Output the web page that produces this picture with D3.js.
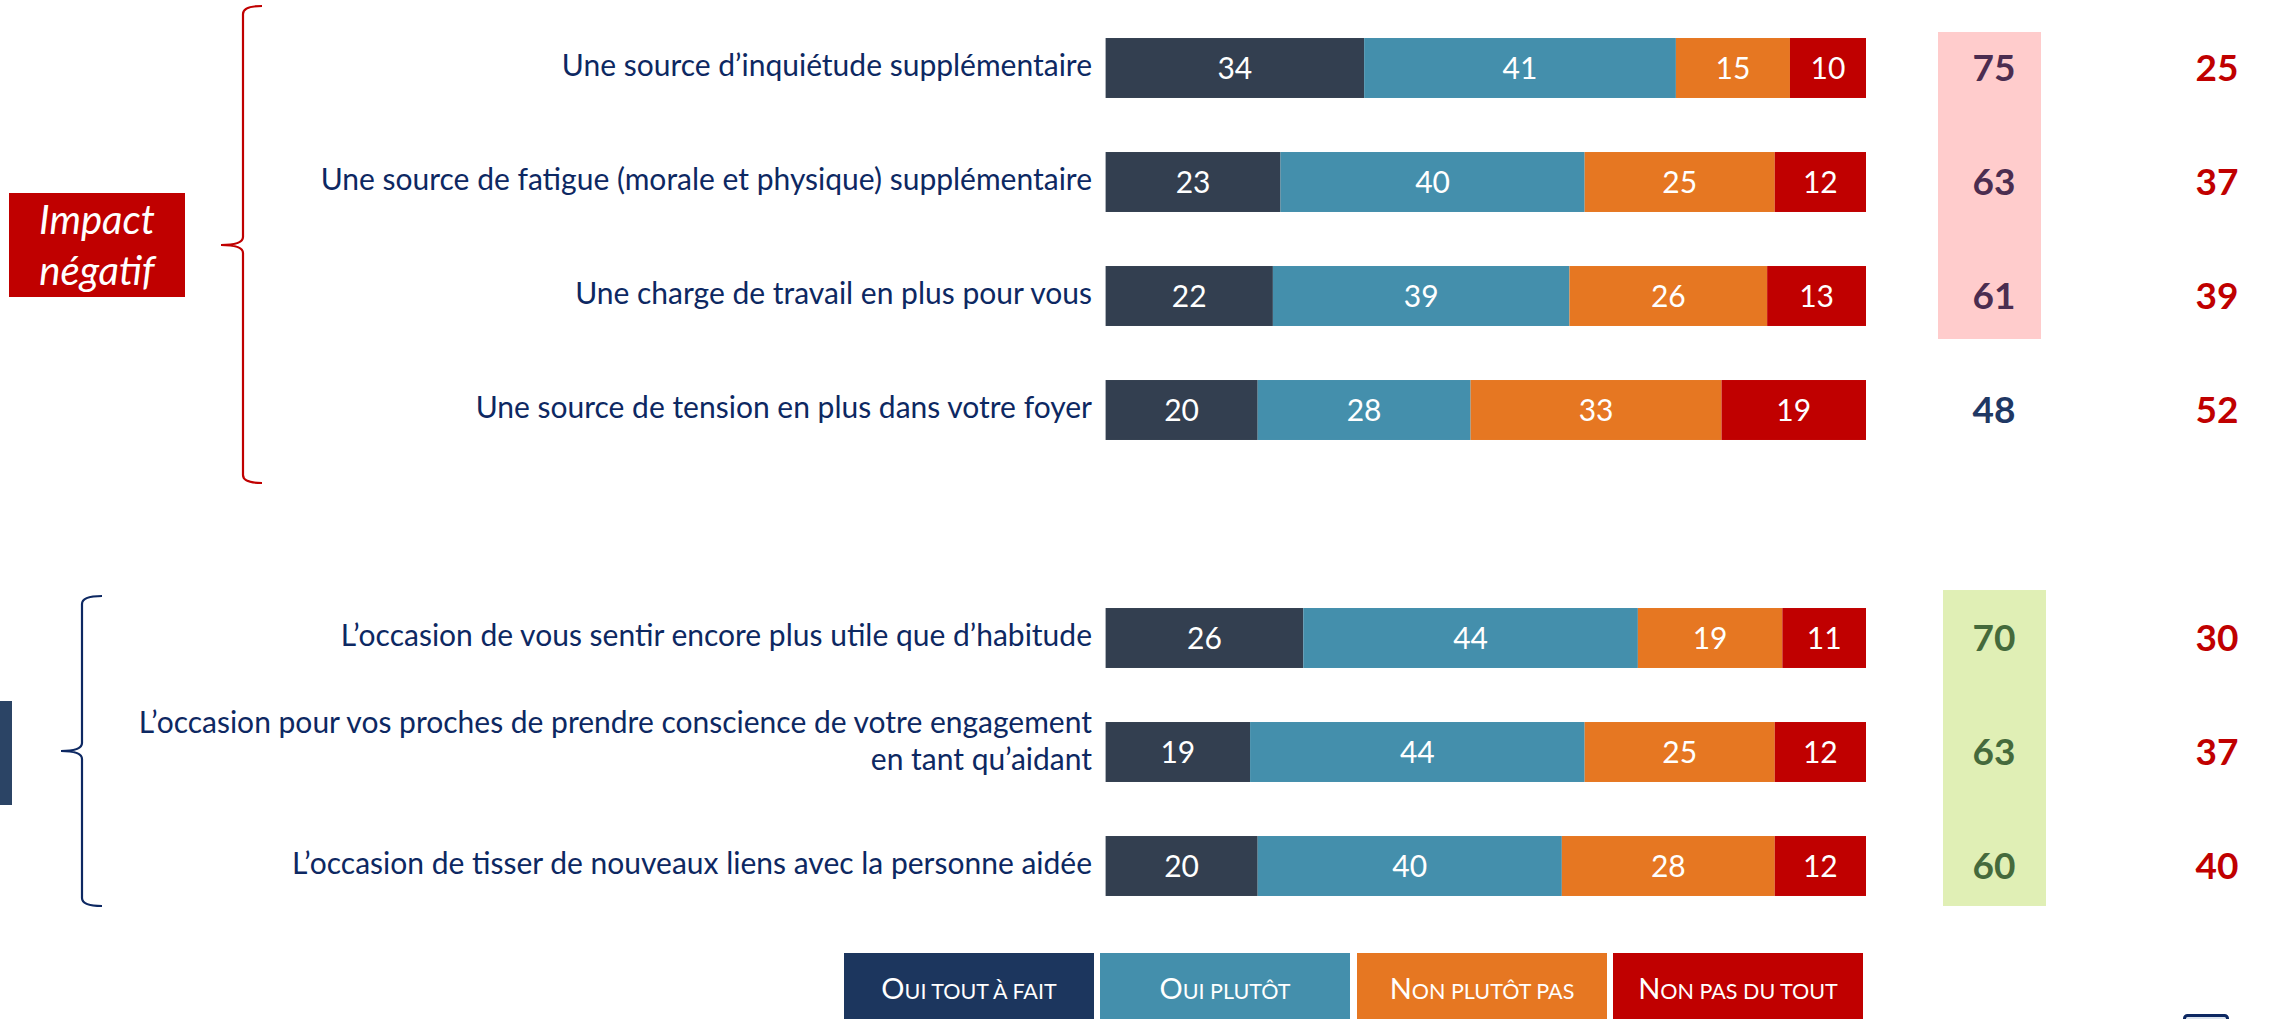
<!DOCTYPE html>
<html>
<head>
<meta charset="utf-8">
<script src="https://cdn.jsdelivr.net/npm/d3@7"></script>
<style>
  html, body { margin: 0; padding: 0; background: #ffffff; }
  svg { display: block; }
</style>
</head>
<body>
<svg id="chart" width="2272" height="1019"></svg>
<script>
// ---------- DATA ----------
const categories = [
  ["Une source d’inquiétude supplémentaire"],
  ["Une source de fatigue (morale et physique) supplémentaire"],
  ["Une charge de travail en plus pour vous"],
  ["Une source de tension en plus dans votre foyer"],
  ["L’occasion de vous sentir encore plus utile que d’habitude"],
  ["L’occasion pour vos proches de prendre conscience de votre engagement", "en tant qu’aidant"],
  ["L’occasion de tisser de nouveaux liens avec la personne aidée"]
];
const seriesNames = ["Oui tout à fait", "Oui plutôt", "Non plutôt pas", "Non pas du tout"];
const ouiToutAFait = [34, 23, 22, 20, 26, 19, 20];
const ouiPlutot    = [41, 40, 39, 28, 44, 44, 40];
const nonPlutotPas = [15, 25, 26, 33, 19, 25, 28];
const nonPasDuTout = [10, 12, 13, 19, 11, 12, 12];
const totalOui = [75, 63, 61, 48, 70, 63, 60];
const totalNon = [25, 37, 39, 52, 30, 37, 40];
const rowSlots = [0, 1, 2, 3, 5, 6, 7];   // slot 4 is the gap between the two groups
const groupNames = ["Impact négatif", "Impact positif"];

// ---------- STYLE ----------
const FONT = "Lato, 'Open Sans', sans-serif";
const barColors = ["#333F50", "#448FAC", "#E67722", "#C00000"];
const legendColors = ["#1C365E", "#448FAC", "#E67722", "#C00000"];
const labelColor = "#0D2862";

const svg = d3.select("#chart");

// ---------- SCALES ----------
const x = d3.scaleLinear().domain([0, 100]).range([1105.6, 1866]);
const y = d3.scaleBand().domain(d3.range(8)).range([11, 923])
  .paddingInner(0.474).paddingOuter(0.237);

// ---------- STACKED BARS ----------
const rows = categories.map((c, i) => ({
  i, slot: rowSlots[i], label: c,
  vals: [ouiToutAFait[i], ouiPlutot[i], nonPlutotPas[i], nonPasDuTout[i]]
}));
const stacked = d3.stack().keys(d3.range(4))(rows.map(r => r.vals));

const barG = svg.append("g");
stacked.forEach((layer, k) => {
  const g = barG.append("g");
  g.selectAll("rect").data(layer).join("rect")
    .attr("x", d => x(d[0]))
    .attr("y", (d, i) => y(rows[i].slot))
    .attr("width", d => x(d[1]) - x(d[0]))
    .attr("height", y.bandwidth())
    .attr("fill", barColors[k]);
  g.selectAll("text").data(layer).join("text")
    .attr("x", d => (x(d[0]) + x(d[1])) / 2)
    .attr("y", (d, i) => y(rows[i].slot) + y.bandwidth() / 2 + 11)
    .attr("text-anchor", "middle")
    .attr("font-family", FONT)
    .attr("font-size", 30)
    .attr("fill", "#ffffff")
    .text(d => d[1] - d[0]);
});

// ---------- CATEGORY LABELS ----------
const labG = svg.append("g");
rows.forEach(r => {
  const cy = y(r.slot) + y.bandwidth() / 2;
  const n = r.label.length;
  r.label.forEach((line, j) => {
    const off = n === 1 ? 8 : (j === 0 ? -19 : 18);
    labG.append("text")
      .attr("x", 1092)
      .attr("y", cy + off)
      .attr("text-anchor", "end")
      .attr("font-family", FONT)
      .attr("font-size", 30)
      .attr("fill", labelColor)
      .text(line);
  });
});

// ---------- SUMMARY COLUMNS ----------
const boxes = [
  { rows: [0, 1, 2], fill: "#FFCCCC", x0: 1938, x1: 2041, padTop: 6, padBot: 13, textColor: "#4B2D50" },
  { rows: [4, 5, 6], fill: "#E0EFB5", x0: 1943, x1: 2046, padTop: 18, padBot: 10, textColor: "#456A3C" }
];
boxes.forEach(b => {
  const top = y(rowSlots[b.rows[0]]) - b.padTop;
  const bot = y(rowSlots[b.rows[b.rows.length - 1]]) + y.bandwidth() + b.padBot;
  svg.append("rect").attr("x", b.x0).attr("y", top).attr("width", b.x1 - b.x0)
    .attr("height", bot - top).attr("fill", b.fill);
});
function ouiColor(i) {
  const b = boxes.find(b => b.rows.includes(i));
  return b ? b.textColor : "#1F3864";
}
const sumG = svg.append("g").attr("font-family", FONT).attr("font-weight", 700)
  .attr("font-size", 37).attr("text-anchor", "middle");
sumG.selectAll("text.oui").data(totalOui).join("text").attr("class", "oui")
  .attr("x", 1994)
  .attr("y", (d, i) => y(rowSlots[i]) + y.bandwidth() / 2 + 13)
  .attr("fill", (d, i) => ouiColor(i))
  .text(d => d);
sumG.selectAll("text.non").data(totalNon).join("text").attr("class", "non")
  .attr("x", 2217)
  .attr("y", (d, i) => y(rowSlots[i]) + y.bandwidth() / 2 + 13)
  .attr("fill", "#C00000")
  .text(d => d);

// ---------- BRACKETS & GROUP TAGS ----------
function brace(xv, tipEnd, tipMid, yTop, yMid, yBot, color) {
  const r = 8;
  const p = d3.path();
  p.moveTo(tipEnd, yTop);
  p.quadraticCurveTo(xv, yTop, xv, yTop + r);
  p.lineTo(xv, yMid - r);
  p.quadraticCurveTo(xv, yMid, tipMid, yMid);
  p.quadraticCurveTo(xv, yMid, xv, yMid + r);
  p.lineTo(xv, yBot - r);
  p.quadraticCurveTo(xv, yBot, tipEnd, yBot);
  svg.append("path").attr("d", p.toString()).attr("fill", "none")
    .attr("stroke", color).attr("stroke-width", 2.2);
}
brace(243, 262, 221, 6, 245, 483, "#C00000");
brace(82, 102, 61, 596, 751, 906, "#0D2862");

svg.append("rect").attr("x", 9).attr("y", 193).attr("width", 176).attr("height", 104).attr("fill", "#C00000");
const tag = svg.append("text").attr("font-family", FONT).attr("font-style", "italic")
  .attr("font-size", 40).attr("fill", "#ffffff").attr("text-anchor", "middle");
tag.append("tspan").attr("x", 97).attr("y", 234).text(groupNames[0].split(" ")[0]);
tag.append("tspan").attr("x", 97).attr("y", 285).text(groupNames[0].split(" ")[1]);

// the second tag is cut by the frame: only its right edge shows
svg.append("rect").attr("x", -170).attr("y", 701).attr("width", 182).attr("height", 104).attr("fill", "#2B4465");

// ---------- LEGEND ----------
const legX = [844, 1100, 1357, 1613];
const legG = svg.append("g");
seriesNames.forEach((name, k) => {
  legG.append("rect").attr("x", legX[k]).attr("y", 953).attr("width", 250).attr("height", 66)
    .attr("fill", legendColors[k]);
  const t = legG.append("text").attr("x", legX[k] + 125).attr("y", 999)
    .attr("text-anchor", "middle").attr("font-family", FONT).attr("fill", "#ffffff");
  t.append("tspan").attr("font-size", 29).text(name[0].toUpperCase());
  t.append("tspan").attr("font-size", 21.5).text(name.slice(1).toUpperCase());
});

// small cut-off icon at bottom right
svg.append("rect").attr("x", 2184.5).attr("y", 1015.5).attr("width", 43).attr("height", 20).attr("rx", 3)
  .attr("fill", "#DCE4EE").attr("stroke", "#0D2862").attr("stroke-width", 3);
</script>
</body>
</html>
